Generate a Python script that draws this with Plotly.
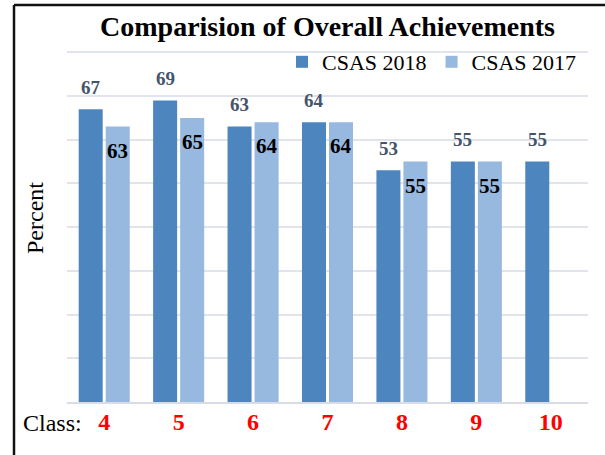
import plotly.graph_objects as go

classes = ["4", "5", "6", "7", "8", "9", "10"]
csas_2018 = [67, 69, 63, 64, 53, 55, 55]
csas_2017 = [63, 65, 64, 64, 55, 55, None]

W, H = 605, 455
ML, MR, MT, MB = 67, 17, 51, 53
PW = W - ML - MR
PH = H - MT - MB

def px_x(px):
    return (px - ML) / PW

def px_y(py):
    return (H - MB - py) / PH

SERIF = "Liberation Serif, Times New Roman, serif"
C18 = "#4d86bf"
C17 = "#97b8df"

fig = go.Figure()
fig.add_trace(go.Bar(x=classes, y=csas_2018, name="CSAS 2018", marker=dict(color=C18, line=dict(width=0))))
fig.add_trace(go.Bar(x=classes, y=csas_2017, name="CSAS 2017", marker=dict(color=C17, line=dict(width=0))))

annotations = []
for i, v in enumerate(csas_2018):
    if v is None:
        continue
    annotations.append(dict(x=i, y=v, xref="x", yref="y", text=str(v), showarrow=False,
                            xshift=-13.5, yshift=22, yanchor="middle",
                            font=dict(family=SERIF, size=19, color="#44546a", weight="bold")))
for i, v in enumerate(csas_2017):
    if v is None:
        continue
    annotations.append(dict(x=i, y=v, xref="x", yref="y", text=str(v), showarrow=False,
                            xshift=13.5, yshift=-24, yanchor="middle",
                            font=dict(family=SERIF, size=21, color="black", weight="bold")))

annotations.append(dict(x=px_x(52), y=px_y(423), xref="paper", yref="paper", text="Class:",
                        showarrow=False, xanchor="center", yanchor="middle",
                        font=dict(family=SERIF, size=24, color="black")))
annotations.append(dict(x=px_x(35), y=px_y(218), xref="paper", yref="paper", text="Percent",
                        showarrow=False, xanchor="center", yanchor="middle", textangle=-90,
                        font=dict(family=SERIF, size=24, color="black")))

shapes = [
    dict(type="line", xref="paper", yref="paper", x0=px_x(14), x1=px_x(14), y0=px_y(460), y1=px_y(5),
         line=dict(color="#111111", width=2.5)),
    dict(type="line", xref="paper", yref="paper", x0=px_x(14), x1=px_x(610), y0=px_y(5), y1=px_y(5),
         line=dict(color="#111111", width=2.5)),
]

fig.update_layout(
    width=W, height=H,
    margin=dict(l=ML, r=MR, t=MT, b=MB, autoexpand=False),
    paper_bgcolor="white", plot_bgcolor="white",
    barmode="group", bargap=0.274, bargroupgap=0.111,
    title=dict(text="<b>Comparision of Overall Achievements</b>", x=0.5, xref="paper",
               xanchor="center", y=1 - 26 / H, yanchor="middle",
               font=dict(family=SERIF, size=28, color="black")),
    legend=dict(orientation="h", x=px_x(282), y=px_y(62), xanchor="left", yanchor="middle",
                font=dict(family=SERIF, size=22, color="black"), bgcolor="rgba(0,0,0,0)",
                itemclick=False),
    xaxis=dict(type="category", showgrid=False, showline=True, linecolor="#d9dce5", linewidth=2,
               tickfont=dict(family=SERIF, size=24, color="red", weight="bold"),
               ticklabelstandoff=-3, fixedrange=True),
    yaxis=dict(range=[0, 80.3], dtick=10, showticklabels=False, showgrid=True,
               gridcolor="#e1e4ea", gridwidth=1.5, zeroline=False, fixedrange=True),
    annotations=annotations,
    shapes=shapes,
)

fig.write_html("out.html", config={"displayModeBar": False},
               post_script="document.body.style.margin='0';document.body.style.overflow='hidden';")
